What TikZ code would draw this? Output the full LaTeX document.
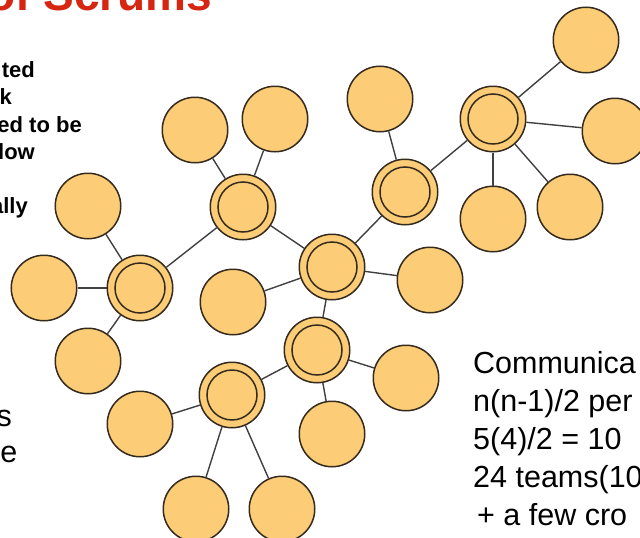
\documentclass[tikz,border=0pt]{standalone}
\usepackage{fontspec}
\setmainfont{Liberation Sans}
\definecolor{discfill}{RGB}{252,205,118}
\definecolor{discline}{RGB}{52,42,30}
\definecolor{linkgray}{RGB}{64,64,66}
\definecolor{titlered}{RGB}{214,38,18}
\begin{document}
\begin{tikzpicture}[x=1pt,y=-1pt,
  disc/.style={circle, draw=discline, fill=discfill, line width=1.5pt,
               minimum size=65.5pt, inner sep=0pt},
  hub/.style={disc, path picture={\draw[discline, line width=1.5pt]
               (path picture bounding box.center) circle (25pt);}},
  link/.style={draw=linkgray, line width=1.4pt},
  titletext/.style={inner sep=0pt, anchor=base west, text=titlered,
               font=\fontsize{46}{50}\selectfont\bfseries},
  bullettext/.style={inner sep=0pt, anchor=base east,
               font=\fontsize{22}{26}\selectfont\bfseries},
  bodytext/.style={inner sep=0pt, font=\fontsize{30.5}{36}\selectfont}]

\useasboundingbox (0,0) rectangle (640,538);
\clip (0,0) rectangle (640,538);
\fill[white] (0,0) rectangle (640,538);

% slide title
\node[titletext] (title) at (-13,10) {of Scrums};

% bullet fragments on the left
\node[bullettext] (b1) at (35,77)  {ted};
\node[bullettext] (b2) at (12,104) {k};
\node[bullettext] (b3) at (82,132) {ed to be};
\node[bullettext] (b4) at (35,159) {low};
\node[bullettext] (b5) at (28,213) {ally};
\node[bodytext, anchor=base east] (c1) at (12,426) {s};
\node[bodytext, anchor=base east] (c2) at (17.5,462) {e};

% communication count text
\node[bodytext, anchor=base west] (r1) at (473,373) {Communica};
\node[bodytext, anchor=base west] (r2) at (473,411) {n(n-1)/2 per};
\node[bodytext, anchor=base west] (r3) at (473,449) {5(4)/2 = 10};
\node[bodytext, anchor=base west] (r4) at (473,487) {24 teams(10};
\node[bodytext, anchor=base west] (r5) at (477,525) {+ a few cro};

% scrum teams: hubs are scrum masters, plain discs are team members
\node[disc] (a1)  at (88,206)  {};
\node[disc] (a2)  at (44,288)  {};
\node[hub]  (h3)  at (140,288) {};
\node[disc] (a4)  at (88,361)  {};
\node[disc] (a5)  at (195,130) {};
\node[disc] (a6)  at (275,119) {};
\node[hub]  (h7)  at (243,207) {};
\node[disc] (a8)  at (233,302) {};
\node[hub]  (h9)  at (332,267) {};
\node[disc] (a10) at (380,99)  {};
\node[hub]  (h11) at (405,192) {};
\node[hub]  (h12) at (493,119) {};
\node[disc] (a13) at (586,40)  {};
\node[disc] (a14) at (615,131) {};
\node[disc] (a15) at (493,219) {};
\node[disc] (a16) at (570,207) {};
\node[disc] (a17) at (430,280) {};
\node[hub]  (h18) at (317,350) {};
\node[disc] (a19) at (406,378) {};
\node[hub]  (h20) at (232,395) {};
\node[disc] (a21) at (332,434) {};
\node[disc] (a22) at (140,424) {};
\node[disc] (a23) at (196,509) {};
\node[disc] (a24) at (282,509) {};

% connections
\draw[link] (a1) -- (h3);
\draw[link] (a2) -- (h3);
\draw[link] (a4) -- (h3);
\draw[link] (h3) -- (h7);
\draw[link] (a5) -- (h7);
\draw[link] (a6) -- (h7);
\draw[link] (h7) -- (h9);
\draw[link] (a8) -- (h9);
\draw[link] (h9) -- (h11);
\draw[link] (h9) -- (a17);
\draw[link] (h9) -- (h18);
\draw[link] (a10) -- (h11);
\draw[link] (h11) -- (h12);
\draw[link] (h12) -- (a13);
\draw[link] (h12) -- (a14);
\draw[link] (h12) -- (a15);
\draw[link] (h12) -- (a16);
\draw[link] (h18) -- (a19);
\draw[link] (h18) -- (a21);
\draw[link] (h18) -- (h20);
\draw[link] (h20) -- (a22);
\draw[link] (h20) -- (a23);
\draw[link] (h20) -- (a24);
\end{tikzpicture}
\end{document}
